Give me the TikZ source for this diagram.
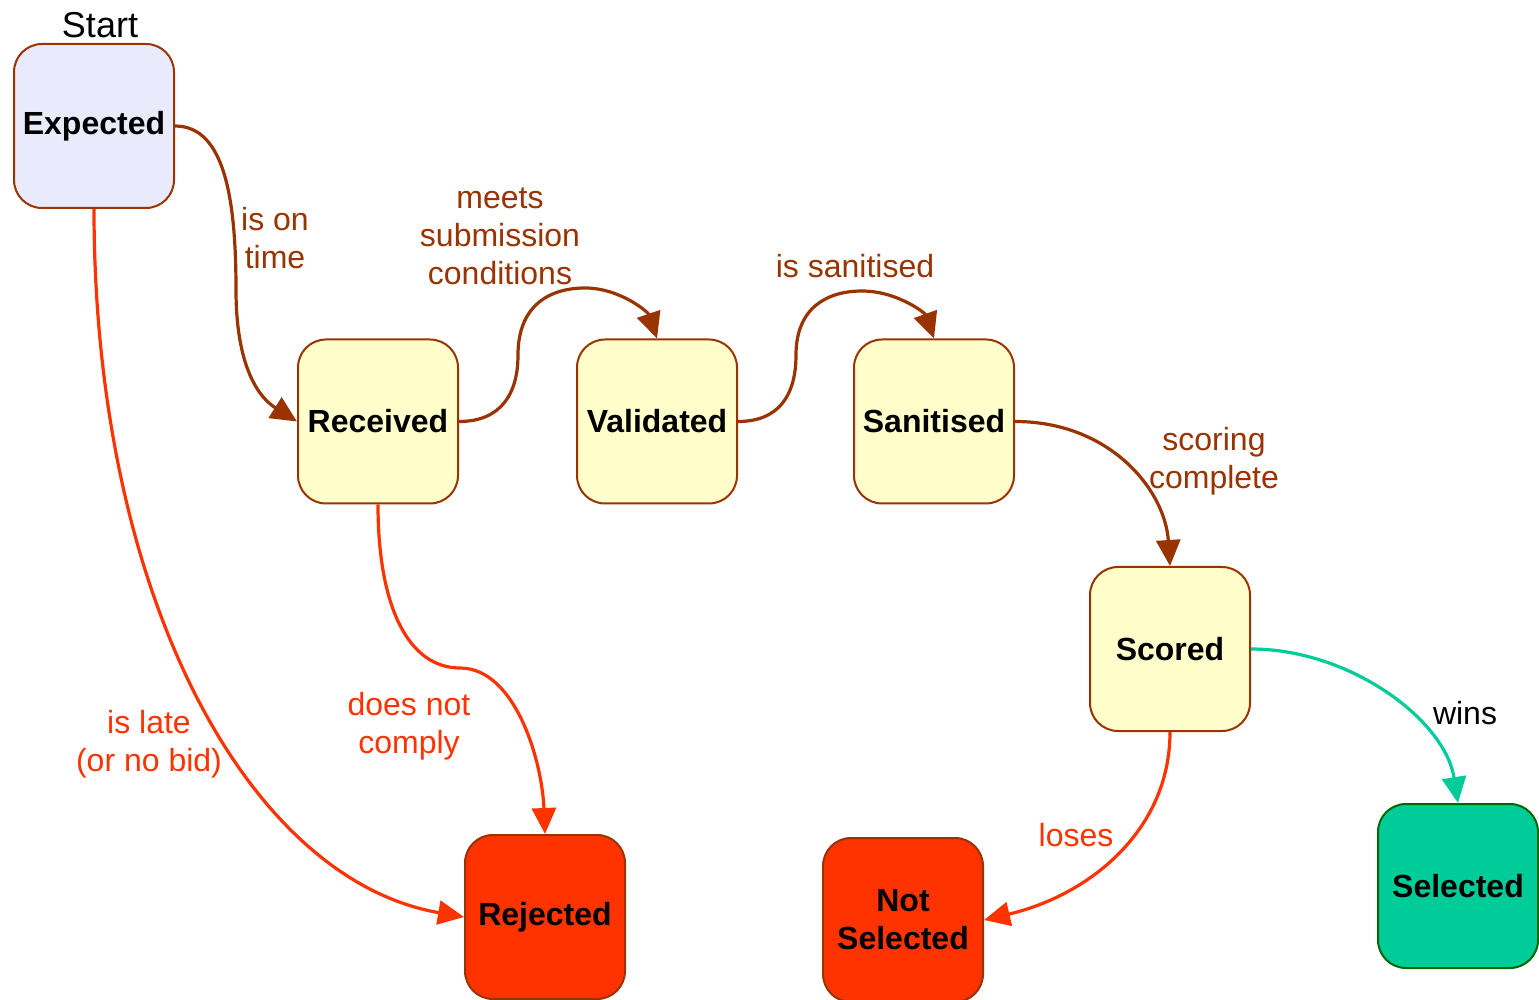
\documentclass[tikz,border=0pt]{standalone}
\usepackage{fontspec}
\setmainfont{Liberation Sans}
\usepackage{xcolor}
\usetikzlibrary{arrows.meta}
\definecolor{bordo}{HTML}{993300}
\definecolor{rosso}{HTML}{FF3300}
\definecolor{verde}{HTML}{00CC99}
\definecolor{verdescuro}{HTML}{006600}
\definecolor{giallo}{HTML}{FFFFCC}
\definecolor{lilla}{HTML}{EAEAFD}
\tikzset{
    stato/.style = {draw=bordo, line width=1pt, rounded corners=14pt, minimum width=80pt, minimum height=82pt, inner sep=2pt, align=center, font=\fontsize{16}{19}\selectfont\bfseries},
    freccia/.style = {line width=1.6pt, -{Triangle[length=13pt,width=12pt]}},
    etichetta/.style = {align=center, font=\fontsize{16}{19}\selectfont}
}

\begin{document}
\begin{tikzpicture}[x = 0.5pt, y = -0.5pt]
    % Cornice
    \useasboundingbox (0,0) rectangle (1539,1000);
    % Stati
    \node[stato, fill=lilla] (expected) at (94,126){\raisebox{-1.5pt}{Expected}};
    \node[font=\fontsize{18}{21}\selectfont] (start) at (100,25){Start};
    \node[stato, fill=giallo] (received) at (378,421.5){\raisebox{-1.5pt}{Received}};
    \node[stato, fill=giallo] (validated) at (657,421.5){\raisebox{-1.5pt}{Validated}};
    \node[stato, fill=giallo] (sanitised) at (934,421.5){\raisebox{-1.5pt}{Sanitised}};
    \node[stato, fill=giallo] (scored) at (1170,649){\raisebox{-1.5pt}{Scored}};
    \node[stato, fill=verde, draw=verdescuro] (selected) at (1458,886){\raisebox{-1.5pt}{Selected}};
    \node[stato, fill=rosso] (rejected) at (545,917){\raisebox{-1.5pt}{Rejected}};
    \node[stato, fill=rosso] (notselected) at (903,920){Not\\Selected};
    % Transizioni in avanti
    \draw[freccia, bordo] (expected.east) .. controls (225,126) and (236,200) .. (236,290) .. controls (236,360) and (255,395) .. (received.west);
    \node[etichetta, bordo] (ontime) at (275,238){is on\\time};
    \draw[freccia, bordo] (received.east) .. controls (500,421.5) and (518,395) .. (518,355) .. controls (518,305) and (550,288) .. (585,288) .. controls (620,288) and (648,312) .. (validated.north);
    \node[etichetta, bordo] (meets) at (500,236){meets\\submission\\conditions};
    \draw[freccia, bordo] (validated.east) .. controls (779,421.5) and (796,395) .. (796,355) .. controls (796,307) and (828,291) .. (862,291) .. controls (897,291) and (925,313) .. (sanitised.north);
    \node[etichetta, bordo] (issanitised) at (855,266){is sanitised};
    \draw[freccia, bordo] (sanitised.east) .. controls (1110,421.5) and (1165,490) .. (scored.north);
    \node[etichetta, bordo] (scoring) at (1214,461){scoring\\complete};
    \draw[freccia, verde] (scored.east) .. controls (1350,649) and (1445,720) .. (selected.north);
    \node[etichetta] (wins) at (1465,713){wins};
    % Transizioni di rifiuto
    \draw[freccia, rosso] (scored.south) .. controls (1170,830) and (1090,895) .. (notselected.east);
    \node[etichetta, rosso] (loses) at (1076,835){loses};
    \draw[freccia, rosso] (received.south) .. controls (378,610) and (410,668) .. (460,668) .. controls (515,668) and (542,760) .. (rejected.north);
    \node[etichetta, rosso] (comply) at (409,726){does not\\comply};
    \draw[freccia, rosso] (expected.south) .. controls (94,600) and (250,880) .. (rejected.west);
    \node[etichetta, rosso] (late) at (149,744){is late\\(or no bid)};
\end{tikzpicture}
\end{document}
